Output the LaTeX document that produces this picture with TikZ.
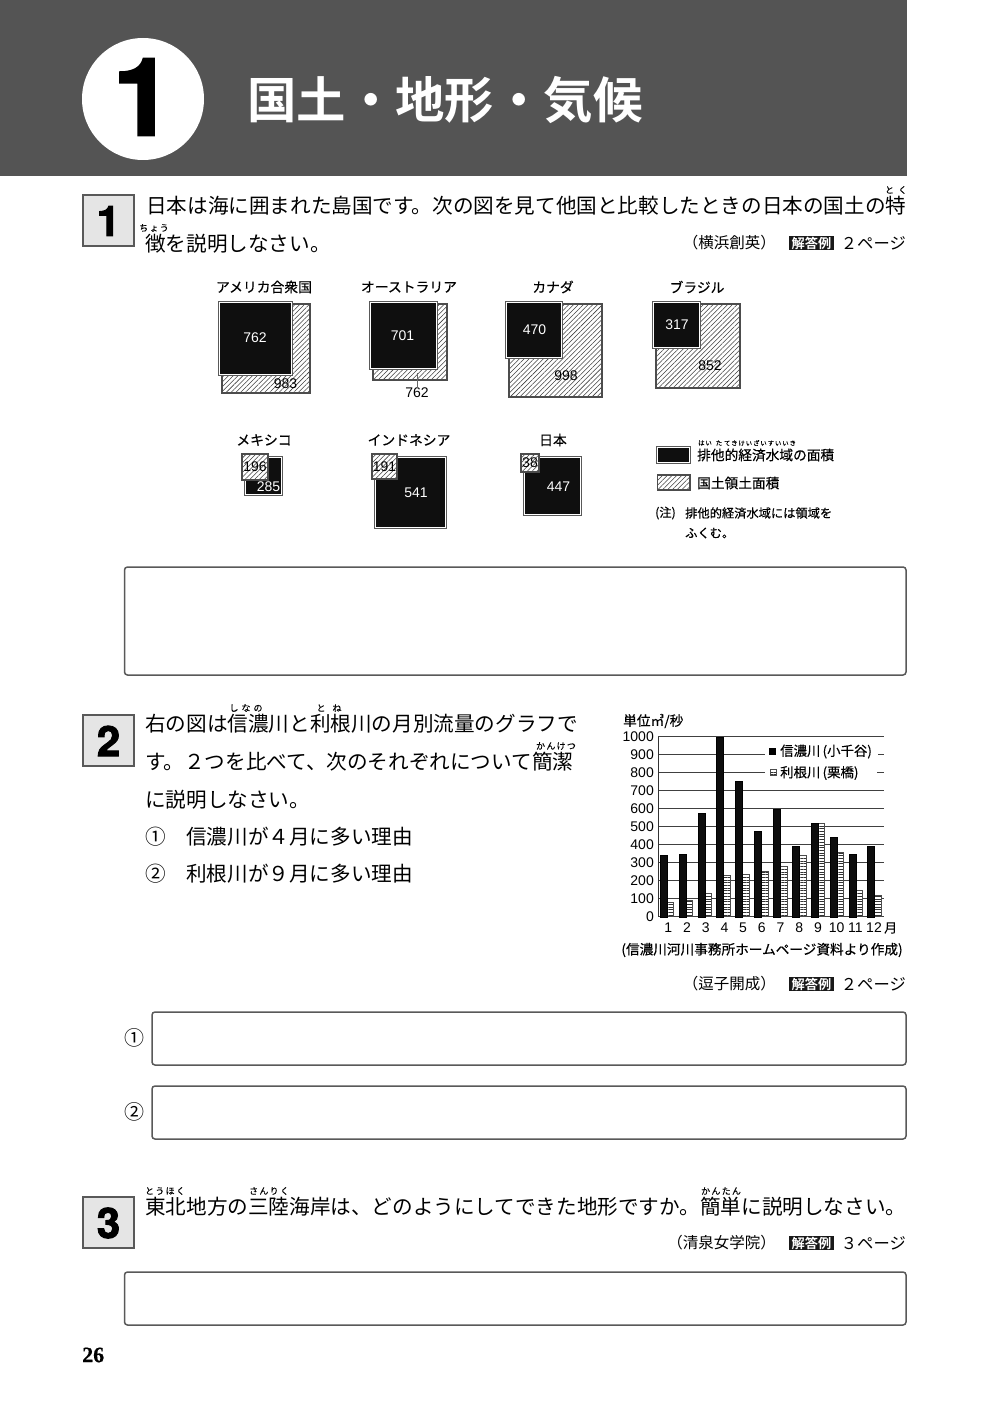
\documentclass[tikz,border=0pt]{standalone}
\usepackage{fontspec}
\usetikzlibrary{patterns.meta}
\setmainfont{Noto Sans CJK JP}
\newfontfamily\medfont[FakeBold=0.35]{Noto Sans CJK JP}
\newfontfamily\rubyfont[FakeBold=0.15,LetterSpace=14]{Noto Sans CJK JP}
\newfontfamily\boldfont{Noto Sans CJK JP Bold}
\newfontfamily\numfont{Liberation Sans}
\newfontfamily\heavyfont[FakeBold=2.2]{TeX Gyre Heros Bold}
\newfontfamily\pagefont[FakeBold=0.5]{Liberation Serif Bold}
\newcommand{\fs}[1]{\fontsize{#1}{#1}\selectfont}
\tikzset{
  bodytext/.style={anchor=west,inner sep=0pt,yshift=-.8pt,font=\fs{20.6}},
  rubytext/.style={inner sep=0pt,font=\rubyfont\fs{9}},
  figtitle/.style={inner sep=0pt,font=\medfont\fs{13.8}},
  figtext/.style={anchor=west,inner sep=0pt,font=\medfont\fs{13.7}},
  notetext/.style={anchor=west,inner sep=0pt,font=\medfont\fs{12.25}},
  srctext/.style={anchor=east,inner sep=0pt,font=\fs{15.5}},
  keytext/.style={inner sep=0pt,fill=black!90,minimum width=45pt,minimum height=14pt,text=white,font=\boldfont\fs{13.2}},
  pagetext/.style={anchor=east,inner sep=0pt,font=\fs{16.3}},
  valtext/.style={inner sep=0pt,font=\numfont\fs{14}},
  numbox/.style={draw=black!65,line width=1.5pt,fill=black!10},
  numtext/.style={inner sep=0pt,font=\heavyfont\fs{42}},
  ansbox/.style={draw=black!65,line width=1.5pt,rounded corners=3pt},
  hatchbox/.style={draw=black!70,line width=1.1pt,preaction={fill=white},pattern={Lines[angle=45,distance=3.4pt,line width=.55pt]},pattern color=black!75},
  darkbox/.style={preaction={draw=black!65,line width=4pt},preaction={draw=white,line width=2.4pt},fill=black!94},
  barA/.style={draw=black,fill=black!95,line width=.4pt},
  barB/.style={draw=black!70,line width=.5pt,preaction={fill=white},pattern={Lines[angle=0,distance=2.7pt,line width=.9pt]},pattern color=black!80},
  gridline/.style={draw=black!75,line width=.7pt}
}
\begin{document}
\begin{tikzpicture}[x=1pt,y=-1pt]
\useasboundingbox (0,0) rectangle (1000,1412);
\fill[white] (0,0) rectangle (1000,1412);

\fill[black!67] (0,0) rectangle (907,176);
\fill[white] (143,99) circle (61);
\node[inner sep=0pt,font=\heavyfont\fs{108}] (chapnum) at (143,97) {1};
\node[anchor=west,inner sep=0pt,text=white,font=\boldfont\fs{49.4}] (chaptitle) at (247,100) {国土・地形・気候};

\foreach \ya/\n in {195/1,715/2,1197/3} {
  \draw[numbox] (83,\ya) rectangle ++(51,51);
  \node[numtext] (num\n) at (108.5,\ya+26) {\n};
}

\node[bodytext] (q1a) at (146,205) {日本は海に囲まれた島国です。次の図を見て他国と比較したときの日本の国土の特};
\node[bodytext] (q1b) at (145,243) {徴を説明しなさい。};
\node[rubytext] (r1a) at (896,190) {と\kern4ptく};
\node[rubytext] (r1b) at (154,228) {ちょう};

\foreach \nm/\ya/\tx in {a/243/（横浜創英）,b/984/（逗子開成）,c/1243/（清泉女学院）} {
  \node[srctext] (src\nm) at (776,\ya) {\tx};
  \node[keytext] (key\nm) at (811.5,\ya) {解答例};
}
\node[pagetext] (pga) at (906,243) {２ページ};
\node[pagetext] (pgb) at (906,984) {２ページ};
\node[pagetext] (pgc) at (906,1243) {３ページ};

\foreach \nm/\xa/\tx in {usa/264/アメリカ合衆国,aus/409/オーストラリア,can/553/カナダ,bra/697/ブラジル} {
  \node[figtitle] (t\nm) at (\xa,287) {\tx};
}
\foreach \nm/\xa/\tx in {mex/264/メキシコ,idn/409/インドネシア,jpn/553/日本} {
  \node[figtitle] (t\nm) at (\xa,440) {\tx};
}

\foreach \xa/\xb/\yb/\xc/\yc in {222/310/393/291/374,373/447/380/436/368,509/602/397/561/357,656/740/388/699/347} {
  \draw[hatchbox] (\xa,304) rectangle (\xb,\yb);
  \fill[darkbox] (\xa-2,303) rectangle (\xc,\yc);
}
\fill[darkbox] (246,458) rectangle (281,494);
\fill[darkbox] (376,458) rectangle (445,527);
\fill[darkbox] (525,458) rectangle (580,514);
\draw[hatchbox] (242,454) rectangle (268,480);
\draw[hatchbox] (372,454) rectangle (397,479);
\draw[hatchbox] (521,454) rectangle (539,472);

\foreach \nm/\tx/\xa/\ya in {a/762/255/338,b/701/402.5/336,c/470/534.5/330,d/317/677/324.5,e/541/416/493,f/447/558.5/487} {
  \node[valtext,text=white] (val\nm) at (\xa,\ya) {\tx};
}
\foreach \nm/\tx/\xa/\ya in {g/983/285.5/384,i/998/566/376,j/852/710/366,k/196/255/467,n/191/384.5/467,o/38/530/463} {
  \node[valtext] (val\nm) at (\xa,\ya) {\tx};
}
\node[valtext] (valm) at (268.5,486.5) {\textcolor{white}{285}};
\node[valtext] (valh) at (417,393) {762};
\coordinate (lead) at (417,373);
\draw[black!60,line width=.6pt] (lead) -- (valh.north);

\fill[darkbox] (658,448) rectangle (689,462);
\draw[hatchbox] (657.5,475) rectangle (690,490);
\node[figtext] (keya) at (697,455) {排他的経済水域の面積};
\node[figtext] (keyb) at (697,483) {国土領土面積};
\node[notetext] (notea) at (655,513) {(注)};
\node[notetext] (noteb) at (685,513) {排他的経済水域には領域を};
\node[notetext] (notec) at (685,533) {ふくむ。};
\node[rubytext,font=\rubyfont\fs{6.4}] (rka) at (705,443) {はい};
\node[rubytext,font=\rubyfont\fs{6.4}] (rkb) at (719,443) {た};
\node[rubytext,font=\rubyfont\fs{6.4}] (rkc) at (760,443) {てきけいざいすいいき};

\draw[ansbox] (124.5,567) rectangle (906,675);

\node[bodytext] (q2a) at (145,723) {右の図は信濃川と利根川の月別流量のグラフで};
\node[bodytext] (q2b) at (145,761) {す。２つを比べて、次のそれぞれについて簡潔};
\node[bodytext] (q2c) at (145,799) {に説明しなさい。};
\node[bodytext] (q2d) at (145,836) {①};
\node[bodytext] (q2e) at (186,836) {信濃川が４月に多い理由};
\node[bodytext] (q2f) at (145,873) {②};
\node[bodytext] (q2g) at (186,873) {利根川が９月に多い理由};
\node[rubytext] (r2a) at (246,708) {し\kern3ptな\kern3ptの};
\node[rubytext] (r2b) at (329,708) {と\kern7ptね};
\node[rubytext] (r2c) at (556,746) {かんけつ};

\node[figtext] (unit) at (623,721) {単位㎥/秒};
\foreach \n in {0,100,...,1000} {
  \draw[gridline] (658,{916.7-\n*.18}) -- (884,{916.7-\n*.18});
  \node[valtext,anchor=east] (tick\n) at (654,{916.7-\n*.18}) {\n};
}
\draw[black!80,line width=.8pt] (658,736.7) -- (658,916.7);
\foreach[count=\n] \a/\b in {340/80,350/90,575/130,1000/230,755/235,475/250,595/280,390/340,520/520,440/360,350/145,390/120} {
  \draw[barB] ({667+(\n-1)*18.88},916.7) rectangle ++(6.6,{-\b*.18});
  \draw[barA] ({660+(\n-1)*18.88},916.7) rectangle ++(7,{-\a*.18});
  \node[valtext] (mon\n) at ({668.3+(\n-1)*18.7},928) {\n};
}
\node[figtext,font=\medfont\fs{13}] (monunit) at (884,928) {月};
\fill[white] (765,744) rectangle (878,760);
\fill[white] (765,765) rectangle (877,781);
\fill[black] (769,748) rectangle ++(7,7);
\draw[barB,line width=.7pt] (770,769.5) rectangle ++(6,6);
\node[figtext,font=\medfont\fs{13.4}] (lega) at (780,751.5) {信濃川\,(小千谷)};
\node[figtext,font=\medfont\fs{13.4}] (legb) at (780,773) {利根川\,(栗橋)};
\node[inner sep=0pt,font=\medfont\fs{13.65}] (chartsrc) at (762,950) {(信濃川河川事務所ホームページ資料より作成)};

\node[inner sep=0pt,font=\fs{20}] (ansa) at (134,1038) {①};
\node[inner sep=0pt,font=\fs{20}] (ansb) at (134,1112) {②};
\draw[ansbox] (152,1012) rectangle (906,1065);
\draw[ansbox] (152,1086) rectangle (906,1139);

\node[bodytext] (q3a) at (145,1206) {東北地方の三陸海岸は、どのようにしてできた地形ですか。簡単に説明しなさい。};
\node[rubytext] (r3a) at (165,1191) {とうほく};
\node[rubytext] (r3b) at (269,1191) {さんりく};
\node[rubytext] (r3c) at (721,1191) {かんたん};
\draw[ansbox] (124.5,1272) rectangle (906,1325);

\node[anchor=west,inner sep=0pt,font=\pagefont\fs{22}] (pageno) at (82,1355) {26};
\end{tikzpicture}
\end{document}
